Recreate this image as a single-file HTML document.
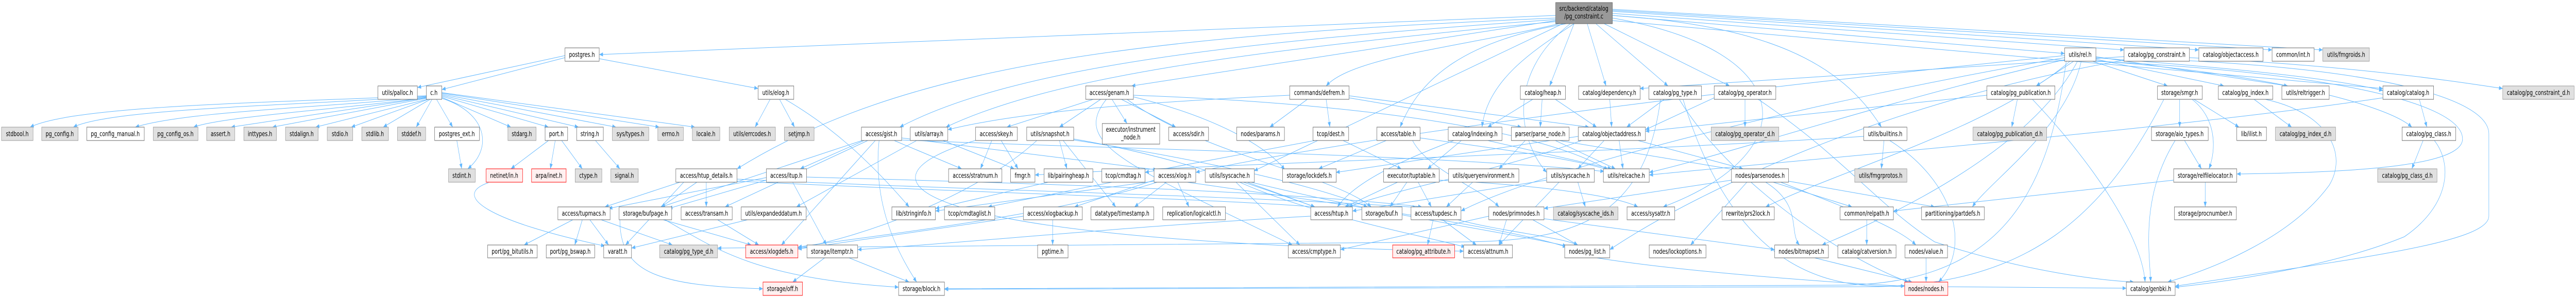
<!DOCTYPE html>
<html><head><meta charset="utf-8"><style>
html,body{margin:0;padding:0;background:#fff;width:100%;height:100%;overflow:hidden;}
svg{display:block;width:100vw;height:100vh;}
text{font-family:"DejaVu Sans","Liberation Sans",sans-serif;font-size:13px;fill:#000;text-anchor:middle;}
.w{fill:#fff;stroke:#666;stroke-width:1;}
.g{fill:#e0e0e0;stroke:#999;stroke-width:1;}
.r{fill:#fff0f0;stroke:#f00;stroke-width:1;}
.k{fill:#999;stroke:#666;stroke-width:1;}
.e path{fill:none;stroke:#63b8ff;stroke-width:1;marker-end:url(#a);}
</style></head><body>
<svg viewBox="0 0 6857 579" preserveAspectRatio="none" xmlns="http://www.w3.org/2000/svg">
<defs><marker id="a" markerWidth="10" markerHeight="8" refX="10" refY="4" orient="auto" markerUnits="userSpaceOnUse"><path d="M0,0 L10,4 L0,8 z" fill="#63b8ff"/></marker></defs>
<rect width="6857" height="579" fill="#fff"/>
<g class="e">
<path d="M4141,30 L1595,106"/>
<path d="M4292,30 L5496,104"/>
<path d="M4292,26 L5654,97"/>
<path d="M4292,22 L5853,97"/>
<path d="M4292,20 L6048,97"/>
<path d="M4292,18 L6183,97"/>
<path d="M4141,40 L3012,167"/>
<path d="M4150,46 C3900,90 3600,110 3530,167"/>
<path d="M4190,46 L4125,167"/>
<path d="M4225,46 L4275,167"/>
<path d="M4248,46 L4440,167"/>
<path d="M4270,46 L4604,167"/>
<path d="M4292,40 L6343,172"/>
<path d="M4141,38 C3300,80 2700,130 2395,247"/>
<path d="M4141,42 C3300,100 2800,150 2518,247"/>
<path d="M4170,46 C3900,80 3780,150 3727,247"/>
<path d="M4190,46 C4100,90 3960,150 3945,247"/>
<path d="M4292,30 C4700,50 4900,120 5008,247"/>
<path d="M4141,35 C3000,70 2400,130 1962,328"/>
<path d="M4160,46 L3338,332"/>
<path d="M4180,46 C4000,150 4050,280 4117,335"/>
<path d="M4292,35 C4800,100 4800,300 4427,402"/>
<path d="M1504,112 L1176,174"/>
<path d="M1504,108 L1111,170"/>
<path d="M1595,114 L2018,172"/>
<path d="M1135,186 C700,200 200,205 80,247"/>
<path d="M1135,187 C800,205 300,210 195,247"/>
<path d="M1135,188 C900,208 500,215 360,247"/>
<path d="M1135,189 C950,210 600,225 515,247"/>
<path d="M1135,190 L615,247"/>
<path d="M1135,191 L725,247"/>
<path d="M1137,193 L840,247"/>
<path d="M1140,193 L935,247"/>
<path d="M1145,193 L1020,247"/>
<path d="M1150,193 L1108,247"/>
<path d="M1162,193 L1205,247"/>
<path d="M1176,189 L1360,247"/>
<path d="M1176,187 L1460,247"/>
<path d="M1176,185 L1540,247"/>
<path d="M1176,183 L1640,247"/>
<path d="M1176,181 L1755,247"/>
<path d="M1176,180 L1850,247"/>
<path d="M1176,191 C1300,220 1310,290 1245,328"/>
<path d="M1216,273 L1229,328"/>
<path d="M1460,273 L1360,328"/>
<path d="M1478,273 L1465,328"/>
<path d="M1495,273 L1550,328"/>
<path d="M1585,273 L1650,328"/>
<path d="M2050,193 L2010,247"/>
<path d="M2075,193 L2115,247"/>
<path d="M2090,193 C2200,240 2300,300 2420,402"/>
<path d="M1810,354 L1610,402"/>
<path d="M1855,354 L1760,402"/>
<path d="M1880,354 L1880,402"/>
<path d="M1962,348 C2600,370 3300,380 3770,403"/>
<path d="M1962,352 C2600,375 3200,385 3500,402"/>
<path d="M1820,354 L1665,476"/>
<path d="M2110,354 L2200,476"/>
<path d="M2040,345 L1620,405"/>
<path d="M2040,350 L1780,405"/>
<path d="M2146,344 C2700,355 3400,370 3785,402"/>
<path d="M1525,427 L1395,476"/>
<path d="M1550,427 L1530,476"/>
<path d="M1570,427 L1620,476"/>
<path d="M1600,427 L1790,476"/>
<path d="M1300,355 C1200,380 1300,430 1610,478"/>
<path d="M1650,427 C1650,530 1750,555 2031,561"/>
<path d="M1765,427 L2000,476"/>
<path d="M1770,427 C1900,480 2000,540 2392,558"/>
<path d="M1910,427 L2020,476"/>
<path d="M1990,427 L1681,482"/>
<path d="M2195,501 L2110,548"/>
<path d="M2260,501 L2420,548"/>
<path d="M2340,273 C2325,380 2370,470 2440,548"/>
<path d="M2380,273 L2560,328"/>
<path d="M2300,273 L2130,328"/>
<path d="M2310,273 L1930,402"/>
<path d="M2400,268 L3080,330"/>
<path d="M2330,273 L2080,476"/>
<path d="M2295,273 L1760,402"/>
<path d="M2400,272 C3000,290 3800,300 4270,333"/>
<path d="M2510,273 L2700,328"/>
<path d="M2440,273 L2120,402"/>
<path d="M2640,273 L2610,328"/>
<path d="M2665,273 L2710,328"/>
<path d="M2600,272 C2200,360 2500,470 3896,488"/>
<path d="M2820,273 L2840,328"/>
<path d="M2858,270 C3100,300 3300,350 3500,402"/>
<path d="M2760,273 C2600,380 2300,460 2124,482"/>
<path d="M2830,273 L2970,402"/>
<path d="M2858,272 C3200,310 3500,360 3640,402"/>
<path d="M2790,354 L2490,405"/>
<path d="M2960,193 L3000,240"/>
<path d="M2985,193 L3130,247"/>
<path d="M2910,193 L2680,247"/>
<path d="M2930,193 L2820,247"/>
<path d="M3016,188 C3250,230 3380,290 3420,330"/>
<path d="M3000,193 C3200,300 3550,340 3650,402"/>
<path d="M3016,185 C3600,200 4100,250 4280,330"/>
<path d="M2945,193 C2850,280 3000,320 3440,476"/>
<path d="M3105,354 L3020,402"/>
<path d="M3135,354 L3165,402"/>
<path d="M3080,354 C2800,420 2300,460 2124,480"/>
<path d="M3072,350 L2860,402"/>
<path d="M3072,352 L2490,410"/>
<path d="M3160,354 C3600,400 4000,440 4170,480"/>
<path d="M2802,427 L2802,476"/>
<path d="M2724,420 L2124,484"/>
<path d="M2960,354 L2630,402"/>
<path d="M3300,354 C3500,420 3800,460 3900,480"/>
<path d="M3290,354 L3460,476"/>
<path d="M3320,354 L3500,402"/>
<path d="M3330,354 C3700,420 4000,450 4170,478"/>
<path d="M3530,193 L3540,247"/>
<path d="M3480,193 L3380,247"/>
<path d="M3590,186 L4230,247"/>
<path d="M3590,190 L4050,247"/>
<path d="M3433,185 C3000,200 2700,220 2523,252"/>
<path d="M3575,273 L3730,328"/>
<path d="M3500,273 L3048,335"/>
<path d="M3720,354 L3580,402"/>
<path d="M3745,354 L3700,402"/>
<path d="M3775,354 L3810,402"/>
<path d="M3831,350 C4100,360 4300,380 4360,402"/>
<path d="M3690,273 L3510,328"/>
<path d="M3780,268 C4000,290 4200,310 4280,330"/>
<path d="M3760,273 C3800,330 3950,370 3990,402"/>
<path d="M3890,273 L3800,328"/>
<path d="M3870,273 C3700,320 3600,360 3560,402"/>
<path d="M3960,273 L4290,328"/>
<path d="M3920,354 L3850,402"/>
<path d="M3815,427 L3800,476"/>
<path d="M3840,427 L3930,476"/>
<path d="M3880,427 C4000,450 4150,460 4200,476"/>
<path d="M3489,420 C3000,440 2600,470 2283,485"/>
<path d="M4105,193 L4100,247"/>
<path d="M4140,193 L4250,247"/>
<path d="M4080,193 L3960,247"/>
<path d="M4285,193 L4290,247"/>
<path d="M4430,193 L4330,247"/>
<path d="M4420,193 C4380,420 4200,468 3900,470 L1910,482"/>
<path d="M4480,193 C4600,480 4800,552 5000,556 L5660,560"/>
<path d="M4470,193 C4600,350 4900,500 5080,548"/>
<path d="M4645,193 L4645,247"/>
<path d="M4563,190 L4380,252"/>
<path d="M4680,193 C4900,300 5000,400 5150,470 C5400,530 5600,545 5680,548"/>
<path d="M4310,273 L4320,328"/>
<path d="M4270,273 L4200,328"/>
<path d="M4360,273 L4640,328"/>
<path d="M4201,265 L3556,335"/>
<path d="M4210,273 C4000,330 3700,370 3590,402"/>
<path d="M4150,273 L4620,330"/>
<path d="M4060,273 L3990,328"/>
<path d="M4140,273 L4300,328"/>
<path d="M4200,354 L4220,402"/>
<path d="M4150,354 L3990,476"/>
<path d="M4117,350 L3600,410"/>
<path d="M4609,350 L4110,405"/>
<path d="M4720,354 L4930,402"/>
<path d="M4761,352 L5150,402"/>
<path d="M4650,354 L4500,476"/>
<path d="M4700,354 C4800,400 4760,450 4790,476"/>
<path d="M4740,354 C4900,400 5050,440 5100,476"/>
<path d="M4080,427 L4200,476"/>
<path d="M4110,425 L4724,485"/>
<path d="M4010,427 L3990,476"/>
<path d="M3963,420 L3568,485"/>
<path d="M4250,501 C4500,530 4900,550 5070,556"/>
<path d="M4830,501 L5090,548"/>
<path d="M5127,501 L5127,548"/>
<path d="M4969,427 L4969,476"/>
<path d="M5015,273 L5008,328"/>
<path d="M4961,265 C4200,300 3200,320 2755,340"/>
<path d="M5030,273 C5200,350 5250,480 5160,548"/>
<path d="M5520,119 L5420,167"/>
<path d="M5578,112 C5900,130 6200,150 6343,176"/>
<path d="M5578,115 L5920,167"/>
<path d="M5570,119 L5770,167"/>
<path d="M5578,110 L6090,167"/>
<path d="M5578,118 C6000,140 6350,200 6420,247"/>
<path d="M5496,112 C4800,200 4100,330 3889,410"/>
<path d="M5496,108 C4500,180 3500,280 3183,335"/>
<path d="M5530,119 C5400,300 5000,430 4850,476"/>
<path d="M5540,119 C5500,250 5300,350 5250,402"/>
<path d="M5510,119 C5300,250 4900,330 4700,402"/>
<path d="M5500,119 C5450,400 5300,552 4900,554 L2514,561"/>
<path d="M5578,119 C6200,140 6555,200 6555,270 C6555,320 6300,335 5954,338"/>
<path d="M5496,116 C5000,200 4600,300 4390,335"/>
<path d="M5370,193 L5355,247"/>
<path d="M5410,193 C5550,300 5700,450 5710,548"/>
<path d="M5289,185 L4380,255"/>
<path d="M5654,110 L4365,172"/>
<path d="M5828,112 C6300,130 6550,160 6662,172"/>
<path d="M5828,118 C6400,140 6625,200 6625,260 L6625,420 C6625,470 6300,500 5790,556"/>
<path d="M5654,117 C5000,200 4500,380 4285,485"/>
<path d="M5802,193 L5802,247"/>
<path d="M5840,193 L5960,247"/>
<path d="M5835,193 C5900,230 5900,290 5880,328"/>
<path d="M5760,193 C5600,420 5400,550 5000,557 L2514,562"/>
<path d="M5815,273 L5860,328"/>
<path d="M5790,273 C5700,380 5720,480 5725,548"/>
<path d="M5870,354 L5870,402"/>
<path d="M5786,350 L5040,410"/>
<path d="M6000,193 L6100,247"/>
<path d="M6030,193 C6200,220 6250,300 6200,360 C6100,460 5900,520 5770,548"/>
<path d="M6440,193 L6460,247"/>
<path d="M6343,190 C5800,250 4800,310 4390,340"/>
<path d="M6450,273 L6420,328"/>
<path d="M6480,273 C6530,320 6520,400 6400,460 C6200,520 5900,550 5790,558"/>
</g>
<g>
<rect class="k" x="4141" y="5" width="151" height="41"/><text x="4216" y="21">src/backend/catalog</text><text x="4216" y="36">/pg_constraint.c</text>
<rect class="w" x="1504" y="93" width="91" height="26"/><text x="1549" y="110.5">postgres.h</text>
<rect class="w" x="5496" y="93" width="83" height="26"/><text x="5537" y="110.5">utils/rel.h</text>
<rect class="w" x="5654" y="93" width="174" height="26"/><text x="5741" y="110.5">catalog/pg_constraint.h</text>
<rect class="w" x="5853" y="93" width="171" height="26"/><text x="5938" y="110.5">catalog/objectaccess.h</text>
<rect class="w" x="6048" y="93" width="112" height="26"/><text x="6104" y="110.5">common/int.h</text>
<rect class="g" x="6183" y="93" width="124" height="26"/><text x="6245" y="110.5">utils/fmgroids.h</text>
<rect class="w" x="1006" y="167" width="105" height="26"/><text x="1058" y="184.5">utils/palloc.h</text>
<rect class="w" x="1135" y="167" width="41" height="26"/><text x="1155" y="184.5">c.h</text>
<rect class="w" x="2018" y="167" width="95" height="26"/><text x="2065" y="184.5">utils/elog.h</text>
<rect class="w" x="2890" y="167" width="127" height="26"/><text x="2953" y="184.5">access/genam.h</text>
<rect class="w" x="3433" y="167" width="158" height="26"/><text x="3512" y="184.5">commands/defrem.h</text>
<rect class="w" x="4047" y="167" width="120" height="26"/><text x="4107" y="184.5">catalog/heap.h</text>
<rect class="w" x="4202" y="167" width="164" height="26"/><text x="4284" y="184.5">catalog/dependency.h</text>
<rect class="w" x="4389" y="167" width="140" height="26"/><text x="4459" y="184.5">catalog/pg_type.h</text>
<rect class="w" x="4563" y="167" width="164" height="26"/><text x="4645" y="184.5">catalog/pg_operator.h</text>
<rect class="w" x="5289" y="167" width="181" height="26"/><text x="5379" y="184.5">catalog/pg_publication.h</text>
<rect class="w" x="5743" y="167" width="119" height="26"/><text x="5802" y="184.5">storage/smgr.h</text>
<rect class="w" x="5905" y="167" width="145" height="26"/><text x="5977" y="184.5">catalog/pg_index.h</text>
<rect class="w" x="6074" y="167" width="126" height="26"/><text x="6137" y="184.5">utils/reltrigger.h</text>
<rect class="w" x="6343" y="167" width="135" height="26"/><text x="6410" y="184.5">catalog/catalog.h</text>
<rect class="g" x="6662" y="167" width="190" height="26"/><text x="6757" y="184.5">catalog/pg_constraint_d.h</text>
<rect class="g" x="4" y="247" width="84" height="26"/><text x="46" y="264.5">stdbool.h</text>
<rect class="g" x="111" y="247" width="97" height="26"/><text x="159" y="264.5">pg_config.h</text>
<rect class="w" x="231" y="247" width="153" height="26"/><text x="307" y="264.5">pg_config_manual.h</text>
<rect class="g" x="408" y="247" width="119" height="26"/><text x="467" y="264.5">pg_config_os.h</text>
<rect class="g" x="550" y="247" width="75" height="26"/><text x="587" y="264.5">assert.h</text>
<rect class="g" x="649" y="247" width="87" height="26"/><text x="692" y="264.5">inttypes.h</text>
<rect class="g" x="760" y="247" width="87" height="26"/><text x="803" y="264.5">stdalign.h</text>
<rect class="g" x="871" y="247" width="68" height="26"/><text x="905" y="264.5">stdio.h</text>
<rect class="g" x="963" y="247" width="71" height="26"/><text x="998" y="264.5">stdlib.h</text>
<rect class="g" x="1058" y="247" width="75" height="26"/><text x="1095" y="264.5">stddef.h</text>
<rect class="w" x="1157" y="247" width="119" height="26"/><text x="1216" y="264.5">postgres_ext.h</text>
<rect class="g" x="1352" y="247" width="75" height="26"/><text x="1389" y="264.5">stdarg.h</text>
<rect class="w" x="1451" y="247" width="60" height="26"/><text x="1481" y="264.5">port.h</text>
<rect class="w" x="1535" y="247" width="71" height="26"/><text x="1570" y="264.5">string.h</text>
<rect class="g" x="1630" y="247" width="97" height="26"/><text x="1678" y="264.5">sys/types.h</text>
<rect class="g" x="1751" y="247" width="68" height="26"/><text x="1785" y="264.5">errno.h</text>
<rect class="g" x="1843" y="247" width="73" height="26"/><text x="1879" y="264.5">locale.h</text>
<rect class="g" x="1941" y="247" width="123" height="26"/><text x="2002" y="264.5">utils/errcodes.h</text>
<rect class="g" x="2088" y="247" width="79" height="26"/><text x="2127" y="264.5">setjmp.h</text>
<rect class="w" x="2293" y="247" width="107" height="26"/><text x="2346" y="264.5">access/gist.h</text>
<rect class="w" x="2423" y="247" width="100" height="26"/><text x="2473" y="264.5">utils/array.h</text>
<rect class="w" x="2597" y="247" width="111" height="26"/><text x="2652" y="264.5">access/skey.h</text>
<rect class="w" x="2733" y="247" width="125" height="26"/><text x="2795" y="264.5">utils/snapshot.h</text>
<rect class="w" x="2934" y="240" width="153" height="40"/><text x="3010" y="256">executor/instrument</text><text x="3010" y="271">_node.h</text>
<rect class="w" x="3111" y="247" width="106" height="26"/><text x="3164" y="264.5">access/sdir.h</text>
<rect class="w" x="3292" y="247" width="127" height="26"/><text x="3355" y="264.5">nodes/params.h</text>
<rect class="w" x="3495" y="247" width="95" height="26"/><text x="3542" y="264.5">tcop/dest.h</text>
<rect class="w" x="3665" y="247" width="115" height="26"/><text x="3722" y="264.5">access/table.h</text>
<rect class="w" x="3855" y="247" width="143" height="26"/><text x="3926" y="264.5">catalog/indexing.h</text>
<rect class="w" x="4023" y="247" width="154" height="26"/><text x="4100" y="264.5">parser/parse_node.h</text>
<rect class="w" x="4201" y="247" width="179" height="26"/><text x="4290" y="264.5">catalog/objectaddress.h</text>
<rect class="g" x="4555" y="247" width="180" height="26"/><text x="4645" y="264.5">catalog/pg_operator_d.h</text>
<rect class="w" x="4961" y="247" width="115" height="26"/><text x="5018" y="264.5">utils/builtins.h</text>
<rect class="g" x="5252" y="247" width="196" height="26"/><text x="5350" y="264.5">catalog/pg_publication_d.h</text>
<rect class="w" x="5727" y="247" width="151" height="26"/><text x="5802" y="264.5">storage/aio_types.h</text>
<rect class="w" x="5954" y="247" width="79" height="26"/><text x="5993" y="264.5">lib/ilist.h</text>
<rect class="g" x="6057" y="247" width="160" height="26"/><text x="6137" y="264.5">catalog/pg_index_d.h</text>
<rect class="w" x="6394" y="247" width="143" height="26"/><text x="6465" y="264.5">catalog/pg_class.h</text>
<rect class="g" x="1194" y="328" width="71" height="26"/><text x="1229" y="345.5">stdint.h</text>
<rect class="r" x="1294" y="328" width="97" height="26"/><text x="1342" y="345.5">netinet/in.h</text>
<rect class="r" x="1415" y="328" width="92" height="26"/><text x="1461" y="345.5">arpa/inet.h</text>
<rect class="g" x="1531" y="328" width="71" height="26"/><text x="1566" y="345.5">ctype.h</text>
<rect class="g" x="1626" y="328" width="73" height="26"/><text x="1662" y="345.5">signal.h</text>
<rect class="w" x="1799" y="328" width="163" height="26"/><text x="1880" y="345.5">access/htup_details.h</text>
<rect class="w" x="2040" y="328" width="107" height="26"/><text x="2093" y="345.5">access/itup.h</text>
<rect class="w" x="2525" y="328" width="142" height="26"/><text x="2596" y="345.5">access/stratnum.h</text>
<rect class="w" x="2690" y="328" width="65" height="26"/><text x="2722" y="345.5">fmgr.h</text>
<rect class="w" x="2779" y="328" width="130" height="26"/><text x="2844" y="345.5">lib/pairingheap.h</text>
<rect class="w" x="2933" y="328" width="115" height="26"/><text x="2990" y="345.5">tcop/cmdtag.h</text>
<rect class="w" x="3072" y="328" width="111" height="26"/><text x="3127" y="345.5">access/xlog.h</text>
<rect class="w" x="3208" y="328" width="131" height="26"/><text x="3273" y="345.5">utils/lsyscache.h</text>
<rect class="w" x="3414" y="328" width="143" height="26"/><text x="3485" y="345.5">storage/lockdefs.h</text>
<rect class="w" x="3683" y="328" width="148" height="26"/><text x="3757" y="345.5">executor/tuptable.h</text>
<rect class="w" x="3856" y="328" width="187" height="26"/><text x="3949" y="345.5">utils/queryenvironment.h</text>
<rect class="w" x="4117" y="328" width="127" height="26"/><text x="4180" y="345.5">utils/syscache.h</text>
<rect class="w" x="4268" y="328" width="122" height="26"/><text x="4329" y="345.5">utils/relcache.h</text>
<rect class="w" x="4609" y="328" width="152" height="26"/><text x="4685" y="345.5">nodes/parsenodes.h</text>
<rect class="g" x="4937" y="328" width="139" height="26"/><text x="5006" y="345.5">utils/fmgrprotos.h</text>
<rect class="w" x="5786" y="328" width="168" height="26"/><text x="5870" y="345.5">storage/relfilelocator.h</text>
<rect class="g" x="6329" y="328" width="158" height="26"/><text x="6408" y="345.5">catalog/pg_class_d.h</text>
<rect class="w" x="1485" y="402" width="139" height="25"/><text x="1554" y="419">access/tupmacs.h</text>
<rect class="w" x="1648" y="402" width="140" height="25"/><text x="1718" y="419">storage/bufpage.h</text>
<rect class="w" x="1813" y="402" width="136" height="25"/><text x="1881" y="419">access/transam.h</text>
<rect class="w" x="1973" y="402" width="173" height="25"/><text x="2059" y="419">utils/expandeddatum.h</text>
<rect class="w" x="2374" y="402" width="116" height="25"/><text x="2432" y="419">lib/stringinfo.h</text>
<rect class="w" x="2514" y="402" width="134" height="25"/><text x="2581" y="419">tcop/cmdtaglist.h</text>
<rect class="w" x="2724" y="402" width="157" height="25"/><text x="2802" y="419">access/xlogbackup.h</text>
<rect class="w" x="2904" y="402" width="167" height="25"/><text x="2987" y="419">datatype/timestamp.h</text>
<rect class="w" x="3095" y="402" width="167" height="25"/><text x="3178" y="419">replication/logicalctl.h</text>
<rect class="w" x="3489" y="402" width="111" height="25"/><text x="3544" y="419">access/htup.h</text>
<rect class="w" x="3625" y="402" width="107" height="25"/><text x="3678" y="419">storage/buf.h</text>
<rect class="w" x="3756" y="402" width="133" height="25"/><text x="3822" y="419">access/tupdesc.h</text>
<rect class="w" x="3963" y="402" width="147" height="25"/><text x="4036" y="419">nodes/primnodes.h</text>
<rect class="g" x="4135" y="402" width="172" height="25"/><text x="4221" y="419">catalog/syscache_ids.h</text>
<rect class="w" x="4331" y="402" width="127" height="25"/><text x="4394" y="419">access/sysattr.h</text>
<rect class="w" x="4584" y="402" width="139" height="25"/><text x="4653" y="419">rewrite/prs2lock.h</text>
<rect class="w" x="4898" y="402" width="142" height="25"/><text x="4969" y="419">common/relpath.h</text>
<rect class="w" x="5115" y="402" width="167" height="25"/><text x="5198" y="419">partitioning/partdefs.h</text>
<rect class="w" x="5788" y="402" width="165" height="25"/><text x="5870" y="419">storage/procnumber.h</text>
<rect class="w" x="1298" y="476" width="132" height="25"/><text x="1364" y="493">port/pg_bitutils.h</text>
<rect class="w" x="1454" y="476" width="129" height="25"/><text x="1518" y="493">port/pg_bswap.h</text>
<rect class="w" x="1607" y="476" width="74" height="25"/><text x="1644" y="493">varatt.h</text>
<rect class="g" x="1756" y="476" width="154" height="25"/><text x="1833" y="493">catalog/pg_type_d.h</text>
<rect class="r" x="1985" y="476" width="139" height="25"/><text x="2054" y="493">access/xlogdefs.h</text>
<rect class="w" x="2148" y="476" width="135" height="25"/><text x="2215" y="493">storage/itemptr.h</text>
<rect class="w" x="2762" y="476" width="81" height="25"/><text x="2802" y="493">pgtime.h</text>
<rect class="w" x="3429" y="476" width="139" height="25"/><text x="3498" y="493">access/cmptype.h</text>
<rect class="r" x="3707" y="476" width="165" height="25"/><text x="3789" y="493">catalog/pg_attribute.h</text>
<rect class="w" x="3896" y="476" width="130" height="25"/><text x="3961" y="493">access/attnum.h</text>
<rect class="w" x="4165" y="476" width="120" height="25"/><text x="4225" y="493">nodes/pg_list.h</text>
<rect class="w" x="4390" y="476" width="151" height="25"/><text x="4465" y="493">nodes/lockoptions.h</text>
<rect class="w" x="4724" y="476" width="143" height="25"/><text x="4795" y="493">nodes/bitmapset.h</text>
<rect class="w" x="4892" y="476" width="155" height="25"/><text x="4969" y="493">catalog/catversion.h</text>
<rect class="w" x="5071" y="476" width="113" height="25"/><text x="5127" y="493">nodes/value.h</text>
<rect class="r" x="2031" y="548" width="105" height="26"/><text x="2083" y="565.5">storage/off.h</text>
<rect class="w" x="2392" y="548" width="122" height="26"/><text x="2453" y="565.5">storage/block.h</text>
<rect class="r" x="5070" y="548" width="115" height="26"/><text x="5127" y="565.5">nodes/nodes.h</text>
<rect class="w" x="5660" y="548" width="130" height="26"/><text x="5725" y="565.5">catalog/genbki.h</text>
</g>
</svg>
</body></html>
